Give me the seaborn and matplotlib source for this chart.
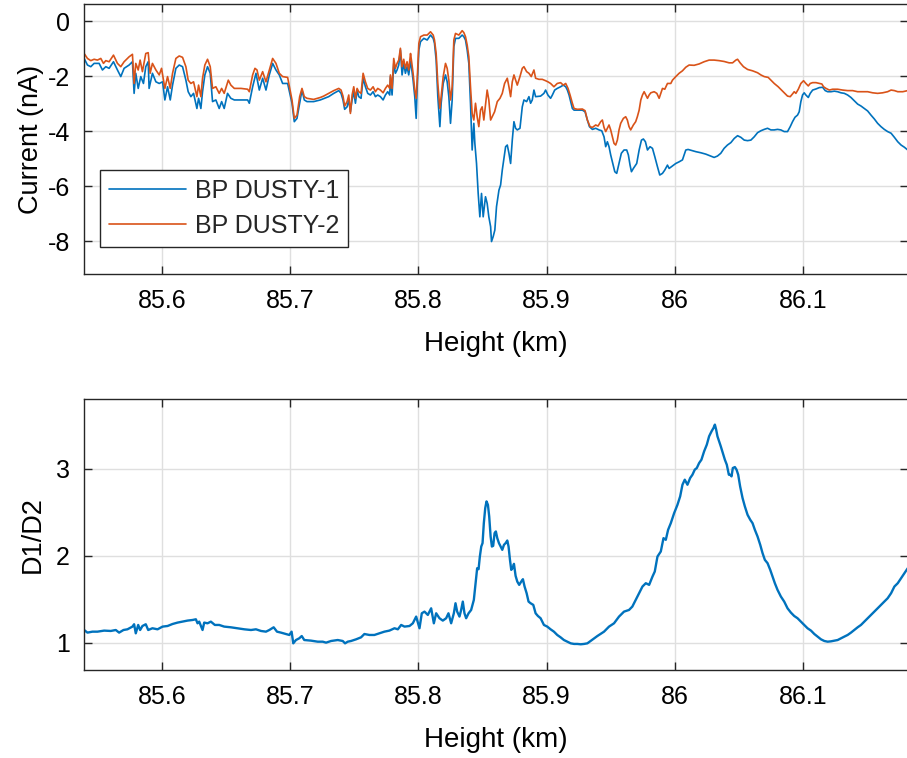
import matplotlib
matplotlib.use("Agg")
import matplotlib.pyplot as plt
import numpy as np
import pandas as pd
import seaborn as sns

# ---------------- data ----------------
height_d1 = [
    85.5391, 85.5417, 85.5443, 85.5469, 85.5508, 85.5534, 85.5560, 85.5586, 85.5620, 85.5651,
    85.5677, 85.5703, 85.5742, 85.5768, 85.5781, 85.5794, 85.5813, 85.5833, 85.5854, 85.5872,
    85.5891, 85.5898, 85.5924, 85.5951, 85.5977, 85.6003, 85.6021, 85.6042, 85.6063, 85.6081,
    85.6107, 85.6133, 85.6159, 85.6185, 85.6203, 85.6224, 85.6245, 85.6271, 85.6284, 85.6302,
    85.6315, 85.6333, 85.6354, 85.6375, 85.6393, 85.6419, 85.6445, 85.6464, 85.6484, 85.6510,
    85.6536, 85.6563, 85.6615, 85.6667, 85.6680, 85.6706, 85.6732, 85.6758, 85.6784, 85.6810,
    85.6836, 85.6862, 85.6888, 85.6914, 85.6940, 85.6979,
    85.7013, 85.7031, 85.7052, 85.7073, 85.7091, 85.7109, 85.7130, 85.7182, 85.7234, 85.7299,
    85.7339, 85.7378, 85.7396, 85.7411, 85.7424, 85.7443, 85.7456, 85.7469, 85.7482, 85.7495,
    85.7508, 85.7521, 85.7534, 85.7552, 85.7568, 85.7586, 85.7604, 85.7625, 85.7646, 85.7664,
    85.7682, 85.7703, 85.7724, 85.7742, 85.7760, 85.7776, 85.7781, 85.7794, 85.7807, 85.7820,
    85.7833, 85.7846, 85.7859, 85.7872, 85.7885, 85.7898, 85.7911, 85.7924, 85.7938, 85.7945,
    85.7958, 85.7971, 85.7982, 85.7990, 85.8003, 85.8016, 85.8042, 85.8068, 85.8094, 85.8115,
    85.8125, 85.8138, 85.8151, 85.8167, 85.8177, 85.8193, 85.8211, 85.8224, 85.8237, 85.8250,
    85.8263, 85.8276, 85.8289, 85.8315, 85.8341, 85.8354, 85.8367, 85.8380, 85.8393, 85.8406,
    85.8419, 85.8432, 85.8440, 85.8453, 85.8466, 85.8479, 85.8492, 85.8505, 85.8523, 85.8536,
    85.8549, 85.8563, 85.8570, 85.8583, 85.8596, 85.8609, 85.8628, 85.8641,
    85.8654, 85.8680, 85.8693, 85.8706, 85.8719, 85.8732, 85.8745, 85.8758, 85.8771, 85.8792,
    85.8810, 85.8823, 85.8844, 85.8862, 85.8875, 85.8888, 85.8901, 85.8914, 85.8953, 85.8979,
    85.8992, 85.9010, 85.9031, 85.9045, 85.9063, 85.9083, 85.9109, 85.9130, 85.9149, 85.9162,
    85.9175, 85.9188, 85.9201, 85.9214, 85.9279, 85.9300, 85.9318, 85.9334, 85.9357, 85.9383,
    85.9409, 85.9430, 85.9448, 85.9461, 85.9474, 85.9487, 85.9500, 85.9513, 85.9532, 85.9547,
    85.9565, 85.9583, 85.9604, 85.9625, 85.9638, 85.9651, 85.9662, 85.9677, 85.9703, 85.9722,
    85.9740, 85.9755, 85.9771, 85.9787, 85.9807, 85.9826, 85.9844, 85.9865, 85.9883, 85.9904,
    85.9922, 85.9943, 85.9956, 85.9982, 86.0008, 86.0034, 86.0060, 86.0086, 86.0104,
    86.0164, 86.0203, 86.0242, 86.0281, 86.0307, 86.0333, 86.0359, 86.0385, 86.0411, 86.0438,
    86.0464, 86.0490, 86.0516, 86.0542, 86.0568, 86.0594, 86.0620, 86.0646, 86.0672, 86.0698,
    86.0724, 86.0750, 86.0776, 86.0802, 86.0828, 86.0854, 86.0880, 86.0901, 86.0919, 86.0938,
    86.0958, 86.0971, 86.0984, 86.0997, 86.1010, 86.1023, 86.1042, 86.1057, 86.1076, 86.1102,
    86.1128, 86.1154, 86.1174, 86.1193, 86.1219, 86.1245, 86.1271, 86.1297, 86.1323, 86.1349,
    86.1375, 86.1401, 86.1427, 86.1453, 86.1479, 86.1505, 86.1531, 86.1557, 86.1583, 86.1609,
    86.1635, 86.1661, 86.1688, 86.1714, 86.1740, 86.1766, 86.1792, 86.1818,
]
current_d1 = [
    -1.36, -1.60, -1.66, -1.54, -1.54, -1.78, -1.66, -1.72, -1.48, -1.78,
    -2.02, -1.72, -1.60, -1.48, -2.63, -1.90, -2.45, -2.02, -2.27, -1.66,
    -1.48, -2.45, -1.90, -2.21, -2.27, -2.21, -2.87, -2.39, -2.87, -2.33,
    -1.72, -1.60, -1.66, -2.15, -2.57, -2.75, -2.63, -3.18, -2.81, -3.18,
    -2.57, -1.96, -1.66, -1.90, -2.93, -2.87, -3.18, -2.93, -3.18, -2.63,
    -2.81, -2.87, -2.87, -2.87, -2.99, -2.39, -1.90, -2.51, -2.08, -2.51,
    -1.96, -1.54, -1.78, -1.96, -2.27, -2.27,
    -2.99, -3.66, -3.54, -2.99, -2.51, -2.87, -2.93, -2.93, -2.87, -2.75,
    -2.63, -2.53, -2.63, -2.87, -3.21, -3.12, -2.87, -3.30, -2.87, -2.57,
    -2.99, -2.51, -2.75, -2.81, -2.08, -2.39, -2.63, -2.69, -2.57, -2.75,
    -2.69, -2.75, -2.87, -2.69, -2.57, -2.69, -2.02, -2.69, -1.54, -1.90,
    -1.78, -1.60, -1.05, -1.96, -1.54, -1.90, -1.66, -1.96, -1.48, -1.66,
    -2.15, -2.75, -3.54, -2.39, -1.05, -0.75, -0.63, -0.69, -0.51, -0.63,
    -0.81, -1.42, -2.75, -3.84, -2.99, -2.27, -1.96, -2.21, -2.75, -3.72,
    -2.87, -0.93, -0.63, -0.63, -0.51, -0.57, -0.69, -1.05, -1.54, -2.99,
    -4.69, -3.72, -4.45, -5.18, -6.27, -7.12, -6.27, -7.12, -6.39, -6.63,
    -7.12, -7.48, -8.02, -7.84, -7.60, -6.75, -6.15, -5.96,
    -5.42, -4.57, -4.51, -4.81, -5.18, -4.33, -3.66, -3.90, -3.96, -3.90,
    -3.12, -2.87, -2.93, -2.75, -2.99, -2.87, -2.51, -2.75, -2.73, -2.63,
    -2.51, -2.69, -2.81, -2.69, -2.51, -2.45, -2.39, -2.33, -2.39, -2.51,
    -2.69, -2.93, -3.18, -3.24, -3.24, -3.30, -3.60, -3.84, -3.94, -3.90,
    -3.96, -3.99, -4.21, -4.57, -4.39, -4.57, -4.87, -5.12, -5.48, -5.54,
    -5.18, -4.81, -4.69, -4.69, -4.87, -5.24, -5.48, -5.36, -5.18, -4.69,
    -4.33, -4.29, -4.39, -4.69, -4.57, -4.63, -4.93, -5.30, -5.60, -5.54,
    -5.42, -5.24, -5.36, -5.27, -5.18, -5.12, -5.05, -4.69, -4.67,
    -4.75, -4.79, -4.84, -4.91, -4.96, -4.91, -4.81, -4.63, -4.51, -4.42,
    -4.27, -4.17, -4.23, -4.33, -4.35, -4.33, -4.21, -4.06, -3.99, -3.94,
    -3.90, -3.96, -3.96, -3.94, -3.96, -4.02, -4.02, -3.84, -3.66, -3.50,
    -3.42, -3.30, -2.93, -2.69, -2.61, -2.69, -2.78, -2.63, -2.51, -2.47,
    -2.42, -2.41, -2.53, -2.57, -2.57, -2.55, -2.57, -2.61, -2.63, -2.69,
    -2.78, -2.90, -3.02, -3.09, -3.18, -3.27, -3.42, -3.56, -3.72, -3.84,
    -3.94, -4.02, -4.08, -4.23, -4.39, -4.51, -4.59, -4.69,
]

height_d2 = [
    85.5391, 85.5417, 85.5443, 85.5469, 85.5495, 85.5521, 85.5542, 85.5560, 85.5586, 85.5620,
    85.5651, 85.5677, 85.5703, 85.5742, 85.5768, 85.5781, 85.5794, 85.5813, 85.5828, 85.5846,
    85.5872, 85.5891, 85.5906, 85.5924, 85.5951, 85.5977, 85.5995, 85.6021, 85.6042, 85.6063,
    85.6081, 85.6107, 85.6133, 85.6159, 85.6185, 85.6203, 85.6224, 85.6245, 85.6271, 85.6284,
    85.6302, 85.6315, 85.6333, 85.6354, 85.6375, 85.6393, 85.6419, 85.6445, 85.6464, 85.6484,
    85.6516, 85.6536, 85.6563, 85.6615, 85.6667, 85.6680, 85.6706, 85.6724, 85.6740, 85.6758,
    85.6784, 85.6810, 85.6836, 85.6862, 85.6888, 85.6914, 85.6940, 85.6979,
    85.7013, 85.7031, 85.7052, 85.7073, 85.7091, 85.7109, 85.7130, 85.7182, 85.7234, 85.7260,
    85.7299, 85.7339, 85.7378, 85.7396, 85.7411, 85.7424, 85.7443, 85.7456, 85.7469, 85.7482,
    85.7495, 85.7508, 85.7521, 85.7534, 85.7552, 85.7568, 85.7586, 85.7604, 85.7625, 85.7646,
    85.7664, 85.7682, 85.7703, 85.7724, 85.7742, 85.7760, 85.7776, 85.7781, 85.7794, 85.7807,
    85.7820, 85.7833, 85.7846, 85.7859, 85.7872, 85.7885, 85.7898, 85.7911, 85.7924, 85.7938,
    85.7945, 85.7958, 85.7971, 85.7982, 85.7990, 85.8003, 85.8016, 85.8042, 85.8068, 85.8094,
    85.8115, 85.8125, 85.8138, 85.8151, 85.8167, 85.8177, 85.8193, 85.8211, 85.8224, 85.8237,
    85.8250, 85.8263, 85.8276, 85.8289, 85.8315, 85.8341, 85.8354, 85.8367, 85.8380, 85.8393,
    85.8406, 85.8419, 85.8432, 85.8445, 85.8458, 85.8471, 85.8484, 85.8497, 85.8510, 85.8523,
    85.8536, 85.8549, 85.8563,
    85.8594, 85.8615, 85.8636, 85.8654, 85.8672, 85.8693, 85.8706, 85.8719, 85.8732, 85.8745,
    85.8758, 85.8771, 85.8792, 85.8810, 85.8823, 85.8844, 85.8862, 85.8880, 85.8901, 85.8914,
    85.8940, 85.8966, 85.8992, 85.9010, 85.9031, 85.9057, 85.9083, 85.9109, 85.9130, 85.9149,
    85.9167, 85.9183, 85.9201, 85.9214, 85.9240, 85.9279, 85.9300, 85.9318, 85.9339, 85.9357,
    85.9383, 85.9401, 85.9422, 85.9435, 85.9448, 85.9461, 85.9474, 85.9487, 85.9500, 85.9513,
    85.9526, 85.9539, 85.9552, 85.9565, 85.9578, 85.9599, 85.9617, 85.9630, 85.9643, 85.9656,
    85.9677, 85.9695, 85.9708, 85.9722, 85.9735, 85.9748, 85.9761, 85.9774, 85.9787, 85.9800,
    85.9813, 85.9839, 85.9860, 85.9878, 85.9891, 85.9904, 85.9922, 85.9943, 85.9969, 85.9982,
    86.0008, 86.0034, 86.0060, 86.0086, 86.0112,
    86.0151, 86.0190, 86.0229, 86.0268, 86.0307, 86.0346, 86.0385, 86.0424, 86.0451, 86.0477,
    86.0490, 86.0510, 86.0536, 86.0568, 86.0607, 86.0646, 86.0672, 86.0698, 86.0729, 86.0750,
    86.0776, 86.0807, 86.0833, 86.0854, 86.0880, 86.0901, 86.0919, 86.0932, 86.0945, 86.0964,
    86.0984, 86.1005, 86.1023, 86.1042, 86.1057, 86.1076, 86.1102, 86.1128, 86.1148, 86.1161,
    86.1180, 86.1206, 86.1232, 86.1271, 86.1310, 86.1349, 86.1388, 86.1427, 86.1466, 86.1505,
    86.1544, 86.1583, 86.1622, 86.1661, 86.1688, 86.1714, 86.1740, 86.1779, 86.1818,
]
current_d2 = [
    -1.18, -1.36, -1.44, -1.39, -1.42, -1.36, -1.54, -1.44, -1.48, -1.24,
    -1.54, -1.66, -1.48, -1.30, -1.21, -2.27, -1.54, -1.78, -1.42, -1.84,
    -1.18, -1.15, -1.90, -1.54, -1.78, -1.96, -1.72, -2.45, -2.02, -2.45,
    -1.90, -1.36, -1.27, -1.32, -1.66, -2.15, -2.27, -2.21, -2.75, -2.33,
    -2.75, -2.08, -1.60, -1.39, -1.66, -2.45, -2.39, -2.63, -2.45, -2.63,
    -2.15, -2.33, -2.45, -2.45, -2.48, -2.57, -1.96, -1.72, -1.78, -2.15,
    -1.84, -2.21, -1.78, -1.36, -1.54, -1.90, -2.02, -2.05,
    -2.87, -3.54, -3.42, -2.75, -2.45, -2.75, -2.81, -2.85, -2.78, -2.73,
    -2.63, -2.53, -2.45, -2.51, -2.73, -3.09, -2.93, -2.69, -3.36, -2.69,
    -2.39, -2.81, -2.45, -2.57, -2.63, -1.90, -2.21, -2.45, -2.51, -2.39,
    -2.57, -2.45, -2.51, -2.61, -2.45, -2.33, -2.45, -1.96, -2.45, -1.36,
    -1.72, -1.54, -1.42, -0.99, -1.66, -1.39, -1.72, -1.48, -1.78, -1.18,
    -1.42, -1.90, -2.51, -2.81, -2.15, -0.81, -0.57, -0.51, -0.51, -0.39,
    -0.51, -0.69, -1.18, -2.27, -3.18, -2.75, -2.02, -1.54, -1.72, -2.15,
    -2.87, -2.39, -0.69, -0.45, -0.51, -0.35, -0.42, -0.57, -0.87, -1.30,
    -2.39, -3.36, -3.60, -2.99, -3.48, -3.84, -3.24, -3.12, -3.60, -3.05,
    -2.51, -2.87, -3.60,
    -3.30, -2.93, -2.81, -2.63, -2.27, -2.08, -2.39, -2.75, -2.21, -1.96,
    -2.15, -2.33, -2.02, -1.72, -1.66, -1.84, -1.90, -2.02, -1.78, -2.08,
    -2.12, -2.12, -2.17, -2.21, -2.27, -2.39, -2.27, -2.24, -2.33, -2.27,
    -2.45, -2.69, -2.99, -3.18, -3.21, -3.20, -3.26, -3.60, -3.84, -3.87,
    -3.78, -3.82, -3.66, -3.60, -3.87, -4.02, -3.90, -3.78, -3.96, -4.21,
    -4.45, -4.51, -4.33, -3.96, -3.72, -3.54, -3.48, -3.60, -3.84, -3.96,
    -3.78, -3.66, -3.48, -3.24, -2.87, -2.69, -2.57, -2.69, -2.81, -2.69,
    -2.61, -2.57, -2.63, -2.81, -2.63, -2.45, -2.48, -2.27, -2.27, -2.15,
    -2.02, -1.90, -1.81, -1.68, -1.60,
    -1.61, -1.56, -1.48, -1.42, -1.42, -1.44, -1.47, -1.52, -1.52, -1.42,
    -1.39, -1.52, -1.66, -1.76, -1.81, -1.88, -1.96, -2.02, -2.05, -2.15,
    -2.27, -2.39, -2.51, -2.61, -2.73, -2.75, -2.65, -2.57, -2.63, -2.48,
    -2.27, -2.17, -2.27, -2.36, -2.27, -2.24, -2.24, -2.27, -2.29, -2.39,
    -2.45, -2.51, -2.48, -2.48, -2.51, -2.53, -2.53, -2.57, -2.57, -2.57,
    -2.61, -2.63, -2.61, -2.57, -2.51, -2.53, -2.57, -2.57, -2.53,
]

height_ratio = [
    85.5391, 85.5417, 85.5456, 85.5495, 85.5547, 85.5599, 85.5638, 85.5664, 85.5698, 85.5729,
    85.5768, 85.5781, 85.5794, 85.5813, 85.5828, 85.5846, 85.5872, 85.5891, 85.5924, 85.5964,
    85.6003, 85.6042, 85.6081, 85.6120, 85.6159, 85.6198, 85.6237, 85.6263, 85.6276, 85.6289,
    85.6315, 85.6328, 85.6354, 85.6380, 85.6411, 85.6445, 85.6484, 85.6536, 85.6589, 85.6641,
    85.6693, 85.6732, 85.6771, 85.6810, 85.6836, 85.6870, 85.6896, 85.6927, 85.6966, 85.6992,
    85.7010, 85.7023, 85.7044, 85.7070, 85.7089, 85.7109, 85.7161, 85.7214, 85.7253, 85.7279,
    85.7318, 85.7370, 85.7409, 85.7427, 85.7448, 85.7474, 85.7513, 85.7552, 85.7578, 85.7617,
    85.7656, 85.7695, 85.7734, 85.7773, 85.7813, 85.7839, 85.7865, 85.7891, 85.7930, 85.7956,
    85.7982, 85.8008, 85.8026, 85.8047, 85.8073, 85.8099, 85.8120, 85.8138, 85.8164, 85.8190,
    85.8216, 85.8234, 85.8255, 85.8276, 85.8289, 85.8302, 85.8320, 85.8333, 85.8346, 85.8359,
    85.8372, 85.8391, 85.8411, 85.8432,
    85.8458, 85.8469, 85.8479, 85.8490, 85.8500, 85.8510, 85.8521, 85.8531, 85.8542, 85.8552,
    85.8563, 85.8573, 85.8583, 85.8594, 85.8604, 85.8615, 85.8628, 85.8641, 85.8654, 85.8667,
    85.8680, 85.8693, 85.8703, 85.8714, 85.8724, 85.8734, 85.8745, 85.8758, 85.8771, 85.8786,
    85.8802, 85.8815, 85.8828, 85.8844, 85.8859, 85.8875, 85.8896, 85.8914, 85.8932, 85.8953,
    85.8979, 85.9005, 85.9031, 85.9057, 85.9083, 85.9109, 85.9135, 85.9161, 85.9188, 85.9214,
    85.9240, 85.9266, 85.9292, 85.9318,
    85.9396, 85.9448, 85.9487, 85.9526, 85.9565, 85.9604, 85.9643, 85.9669, 85.9695, 85.9722,
    85.9748, 85.9774, 85.9800, 85.9826, 85.9844, 85.9865, 85.9891, 85.9912, 85.9930, 85.9948,
    85.9969, 85.9995, 86.0021, 86.0042, 86.0060, 86.0078, 86.0099, 86.0120, 86.0138, 86.0156,
    86.0172, 86.0190, 86.0208, 86.0229, 86.0250, 86.0268, 86.0287, 86.0302, 86.0313, 86.0323,
    86.0333, 86.0346, 86.0359, 86.0375, 86.0391, 86.0406, 86.0422, 86.0432, 86.0443, 86.0453,
    86.0469, 86.0482, 86.0495, 86.0510, 86.0529, 86.0547, 86.0568, 86.0589, 86.0607, 86.0625,
    86.0646, 86.0667, 86.0685, 86.0703, 86.0724, 86.0745, 86.0763, 86.0781, 86.0802, 86.0828,
    86.0854, 86.0880, 86.0906, 86.0932, 86.0958, 86.0984, 86.1010, 86.1036, 86.1063, 86.1089,
    86.1115, 86.1141, 86.1167, 86.1193, 86.1219, 86.1245, 86.1271, 86.1297, 86.1323, 86.1349,
    86.1375, 86.1401, 86.1427, 86.1453, 86.1479, 86.1505, 86.1531, 86.1557, 86.1583, 86.1609,
    86.1635, 86.1661, 86.1688, 86.1714, 86.1740, 86.1766, 86.1792, 86.1818,
]
ratio_d1_d2 = [
    1.149, 1.119, 1.130, 1.130, 1.142, 1.138, 1.149, 1.119, 1.149, 1.157,
    1.188, 1.215, 1.111, 1.207, 1.149, 1.195, 1.215, 1.149, 1.169, 1.157,
    1.188, 1.195, 1.218, 1.234, 1.245, 1.257, 1.264, 1.272, 1.226, 1.245,
    1.149, 1.234, 1.226, 1.245, 1.207, 1.207, 1.188, 1.180, 1.169, 1.157,
    1.149, 1.157, 1.138, 1.130, 1.149, 1.180, 1.130, 1.119, 1.103, 1.092,
    1.130, 0.996, 1.034, 1.054, 1.080, 1.034, 1.027, 1.015, 1.015, 1.004,
    1.023, 1.034, 1.023, 0.996, 1.015, 1.023, 1.042, 1.065, 1.103, 1.092,
    1.092, 1.111, 1.130, 1.142, 1.169, 1.157, 1.207, 1.188, 1.195, 1.226,
    1.303, 1.169, 1.341, 1.360, 1.322, 1.398, 1.226, 1.341, 1.284, 1.257,
    1.284, 1.341, 1.226, 1.341, 1.456, 1.360, 1.303, 1.379, 1.475, 1.341,
    1.284, 1.341, 1.379, 1.494,
    1.858, 1.847, 1.992, 2.107, 2.146, 2.375, 2.548, 2.625, 2.586, 2.452,
    2.222, 2.107, 2.115, 2.261, 2.280, 2.203, 2.146, 2.107, 2.069, 2.126,
    2.146, 2.176, 2.107, 1.954, 1.839, 1.858, 1.908, 1.770, 1.705, 1.667,
    1.705, 1.732, 1.648, 1.571, 1.475, 1.456, 1.437, 1.341, 1.310, 1.284,
    1.207, 1.188, 1.157, 1.130, 1.092, 1.065, 1.034, 1.015, 0.996, 0.989,
    0.989, 0.985, 0.989, 0.996,
    1.080, 1.130, 1.188, 1.226, 1.303, 1.360, 1.379, 1.418, 1.494, 1.571,
    1.648, 1.686, 1.667, 1.762, 1.820, 1.992, 2.050, 2.203, 2.184, 2.299,
    2.375, 2.490, 2.586, 2.682, 2.816, 2.874, 2.816, 2.893, 2.931, 2.989,
    3.008, 3.065, 3.103, 3.199, 3.276, 3.372, 3.429, 3.467, 3.506, 3.448,
    3.372, 3.314, 3.257, 3.180, 3.103, 3.046, 2.931, 2.931, 2.912, 3.008,
    3.019, 2.989, 2.931, 2.797, 2.663, 2.567, 2.471, 2.414, 2.375, 2.299,
    2.222, 2.126, 2.031, 1.954, 1.916, 1.839, 1.762, 1.686, 1.609, 1.533,
    1.475, 1.398, 1.349, 1.310, 1.284, 1.245, 1.207, 1.169, 1.142, 1.103,
    1.073, 1.042, 1.023, 1.015, 1.019, 1.027, 1.034, 1.054, 1.073, 1.092,
    1.119, 1.149, 1.180, 1.207, 1.245, 1.284, 1.322, 1.360, 1.398, 1.437,
    1.475, 1.513, 1.571, 1.648, 1.686, 1.743, 1.801, 1.858,
]

series_labels = ["BP DUSTY-1", "BP DUSTY-2"]
series_colors = ["#0072BD", "#D95319"]
x_ticks = [85.6, 85.7, 85.8, 85.9, 86.0, 86.1]
x_tick_labels = ["85.6", "85.7", "85.8", "85.9", "86", "86.1"]
top_y_ticks = [-8, -6, -4, -2, 0]
top_y_tick_labels = ["-8", "-6", "-4", "-2", "0"]
bottom_y_ticks = [1, 2, 3]
bottom_y_tick_labels = ["1", "2", "3"]

# ---------------- styling ----------------
sns.set_style("white")
plt.rcParams["font.family"] = ["Liberation Sans", "DejaVu Sans"]
plt.rcParams["axes.unicode_minus"] = False

W, H = 907, 758
fig = plt.figure(figsize=(W / 100, H / 100), dpi=100)
ax1 = fig.add_axes([84 / W, 1 - 274 / H, (908 - 84) / W, 270 / H])
ax2 = fig.add_axes([84 / W, 1 - 670 / H, (908 - 84) / W, 271 / H])

df_top = pd.concat([
    pd.DataFrame({"Height": height_d1, "Current": current_d1, "Probe": series_labels[0]}),
    pd.DataFrame({"Height": height_d2, "Current": current_d2, "Probe": series_labels[1]}),
], ignore_index=True)
df_bot = pd.DataFrame({"Height": height_ratio, "Ratio": ratio_d1_d2})

for lab, col in zip(series_labels, series_colors):
    sub = df_top[df_top["Probe"] == lab]
    sns.lineplot(data=sub, x="Height", y="Current", ax=ax1, color=col, label=lab,
                 estimator=None, sort=False, linewidth=1.2)

sns.lineplot(data=df_bot, x="Height", y="Ratio", ax=ax2, color=series_colors[0],
             estimator=None, sort=False, linewidth=1.7, legend=False)

text_col = "#262626"
for ax in (ax1, ax2):
    ax.set_xlim(85.539, 86.182)
    ax.set_xticks(x_ticks)
    ax.set_xticklabels(x_tick_labels)
    ax.grid(True, color="#dfdfdf", linewidth=1.0)
    ax.set_axisbelow(True)
    for s in ax.spines.values():
        s.set_color(text_col)
        s.set_linewidth(1.0)
    ax.tick_params(direction="in", length=6, width=1.0, colors=text_col,
                   labelcolor="black", labelsize=18, top=True, right=True,
                   bottom=True, left=True)
    ax.tick_params(axis="x", pad=11)
    ax.tick_params(axis="y", pad=10)
    ax.set_xlabel("Height (km)", fontsize=20, color="black", labelpad=13)

ax1.set_ylim(-9.2, 0.62)
ax1.set_yticks(top_y_ticks)
ax1.set_yticklabels(top_y_tick_labels)
ax1.set_ylabel("Current (nA)", fontsize=19.5, color="black")

ax2.set_ylim(0.69, 3.8)
ax2.set_yticks(bottom_y_ticks)
ax2.set_yticklabels(bottom_y_tick_labels)
ax2.set_ylabel("D1/D2", fontsize=19.5, color="black")

# y-label anchor (right side of the rotated text), in axes coordinates
ax1.yaxis.set_label_coords(-0.049, 0.5)
ax2.yaxis.set_label_coords(-0.046, 0.5)

leg = ax1.legend(loc="upper left", bbox_to_anchor=(0.0195, 0.385), frameon=True,
                 fancybox=False, edgecolor=text_col, framealpha=1, fontsize=18,
                 handlelength=3.1, handletextpad=0.35, borderpad=0.35,
                 labelspacing=0.45, borderaxespad=0)
leg.get_frame().set_linewidth(1.0)

fig.savefig("out.png", dpi=100)
